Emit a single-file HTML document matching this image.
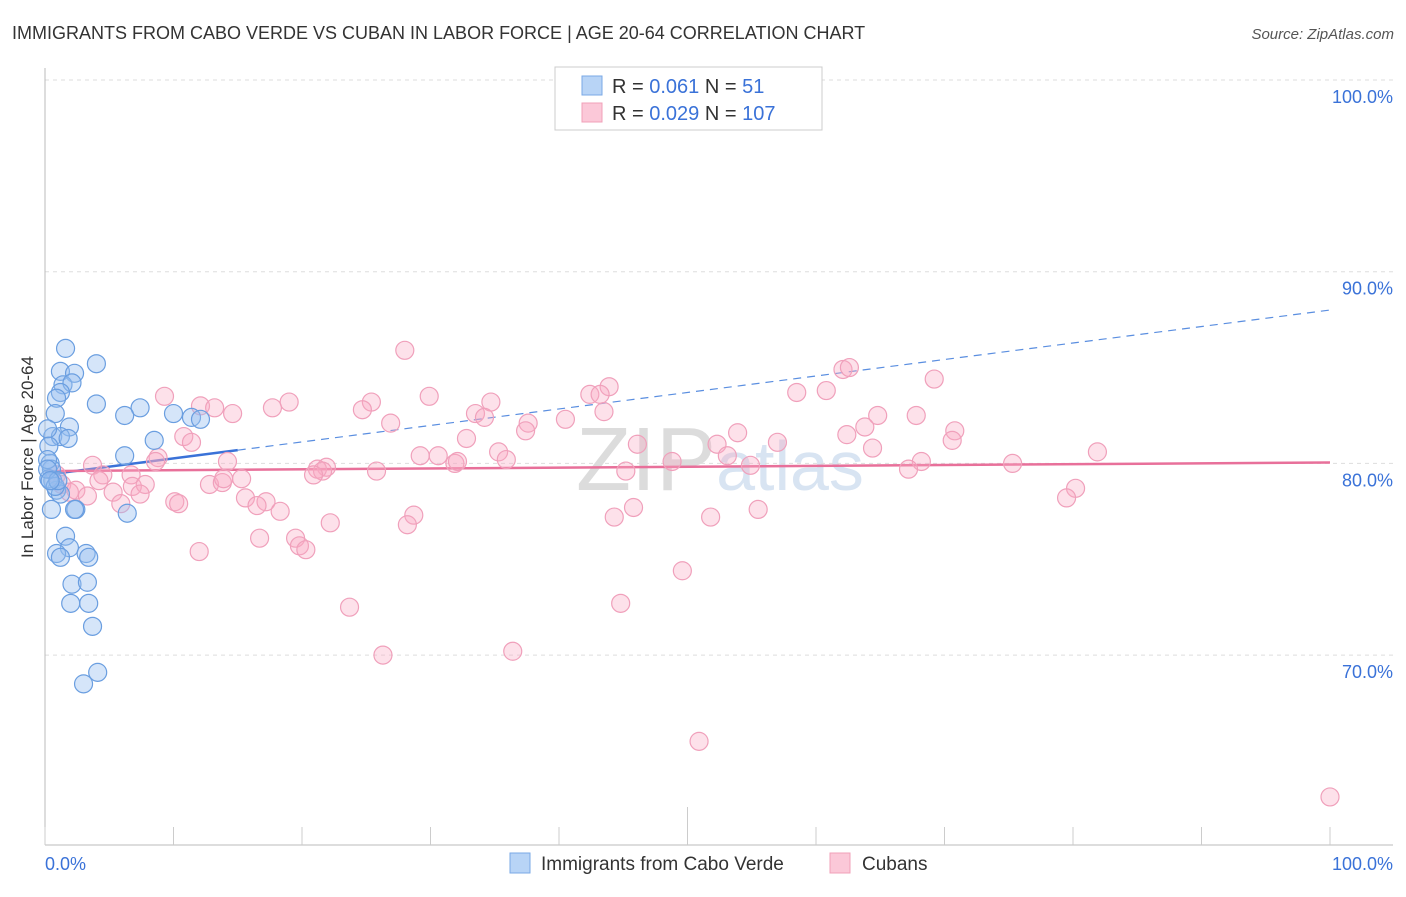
<!DOCTYPE html>
<html><head><meta charset="utf-8"><style>
body{margin:0;background:#fff;font-family:"Liberation Sans",sans-serif}
svg text{font-family:"Liberation Sans",sans-serif}
</style></head><body>
<svg id="chart" width="1406" height="892" viewBox="0 0 1406 892" xmlns="http://www.w3.org/2000/svg">
<text x="12" y="39" font-size="18" fill="#333">IMMIGRANTS FROM CABO VERDE VS CUBAN IN LABOR FORCE | AGE 20-64 CORRELATION CHART</text>
<text x="1394" y="39" font-size="15" fill="#555" text-anchor="end" font-style="italic">Source: ZipAtlas.com</text>
<text x="720" y="490" font-size="90" fill="#e6e6e6" text-anchor="middle" font-family="Liberation Serif"><tspan fill="#dcdcdc">ZIP</tspan><tspan fill="#d8e4f2" font-family="Liberation Sans" font-size="70">atlas</tspan></text>
<text transform="translate(33,457) rotate(-90)" font-size="17" fill="#333" text-anchor="middle">In Labor Force | Age 20-64</text>
<g id="grid"></g>
<g id="axes"></g>
<g id="lines"></g>
<g id="pts"></g>
<g>
<rect x="555" y="67" width="267" height="63" fill="#fff" stroke="#ccc"/>
<rect x="582" y="76" width="20" height="19" fill="#b8d4f6" stroke="#7aa8e6"/>
<text x="612" y="93" font-size="20" fill="#333">R = <tspan fill="#3a72d8">0.061</tspan>   N = <tspan fill="#3a72d8">  51</tspan></text>
<rect x="582" y="103" width="20" height="19" fill="#fbc8d8" stroke="#f0a0b8"/>
<text x="612" y="120" font-size="20" fill="#333">R = <tspan fill="#3a72d8">0.029</tspan>   N = <tspan fill="#3a72d8">107</tspan></text>
</g>
<g>
<rect x="510" y="853" width="20" height="20" fill="#b8d4f6" stroke="#7aa8e6"/>
<text x="541" y="870" font-size="19" fill="#333">Immigrants from Cabo Verde</text>
<rect x="830" y="853" width="20" height="20" fill="#fbc8d8" stroke="#f0a0b8"/>
<text x="862" y="870" font-size="19" fill="#333">Cubans</text>
</g>
</svg>
<script>
const yTicks=[100,90,80,70];
const yTickLabels=["100.0%","90.0%","80.0%","70.0%"];
const xTickValues=[0,10,20,30,40,50,60,70,80,90,100];
const xAxisLabels=["0.0%","100.0%"];
const blueX=[1.6,4.0,1.2,2.3,1.4,2.1,1.2,0.9,4.0,7.4,6.2,0.8,10.0,11.4,12.1,1.9,0.6,1.2,1.8,8.5,0.2,0.3,6.2,0.4,0.5,0.6,0.9,1.2,0.3,0.5,2.4,2.3,6.4,1.6,1.9,0.9,1.2,3.2,3.4,2.1,3.3,2.0,3.4,3.7,4.1,3.0,0.2,0.2,0.8,1.0,0.4];
const blueY=[86.0,85.2,84.8,84.7,84.1,84.2,83.7,83.4,83.1,82.9,82.5,82.6,82.6,82.4,82.3,81.9,81.4,81.4,81.3,81.2,81.8,80.9,80.4,80.0,79.7,79.1,78.6,78.4,79.2,77.6,77.6,77.6,77.4,76.2,75.6,75.3,75.1,75.3,75.1,73.7,73.8,72.7,72.7,71.5,69.1,68.5,80.2,79.7,78.8,79.1,79.1];
const pinkX=[28.0,9.3,62.1,62.6,43.9,42.4,43.2,69.2,58.5,60.8,29.9,34.7,25.4,19.0,12.1,13.2,24.7,14.6,17.7,33.5,34.2,43.5,64.8,67.8,40.5,26.9,37.6,37.4,70.8,62.4,63.8,53.9,10.8,11.4,32.8,46.1,52.3,57.0,70.6,64.4,81.9,29.2,30.6,35.3,35.9,53.1,8.8,14.2,3.7,8.6,31.9,32.1,48.8,54.9,68.2,75.3,21.9,21.2,21.6,67.2,4.5,6.7,15.3,25.8,45.2,20.9,0.9,1.3,4.2,12.8,13.8,6.8,7.8,1.9,2.4,3.3,5.3,7.4,15.6,17.2,10.1,10.4,16.5,80.2,79.5,5.9,18.3,28.7,22.2,28.2,45.8,44.3,51.8,55.5,16.7,19.5,19.8,20.3,12.0,49.6,23.7,44.8,26.3,36.4,50.9,100,13.9];
const pinkY=[85.9,83.5,84.9,85.0,84.0,83.6,83.6,84.4,83.7,83.8,83.5,83.2,83.2,83.2,83.0,82.9,82.8,82.6,82.9,82.6,82.4,82.7,82.5,82.5,82.3,82.1,82.1,81.7,81.7,81.5,81.9,81.6,81.4,81.1,81.3,81.0,81.0,81.1,81.2,80.8,80.6,80.4,80.4,80.6,80.2,80.4,80.3,80.1,79.9,80.1,80.0,80.1,80.1,79.9,80.1,80.0,79.8,79.7,79.6,79.7,79.4,79.4,79.2,79.6,79.6,79.4,79.4,78.9,79.1,78.9,79.0,78.8,78.9,78.5,78.6,78.3,78.5,78.4,78.2,78.0,78.0,77.9,77.8,78.7,78.2,77.9,77.5,77.3,76.9,76.8,77.7,77.2,77.2,77.6,76.1,76.1,75.7,75.5,75.4,74.4,72.5,72.7,70.0,70.2,65.5,62.6,79.2];
const blueFit=[79.4,88.0]; // y at x=0 and x=100
const pinkFit=[79.6,80.05];

const NS="http://www.w3.org/2000/svg";
const xS=v=>45+v*12.85;
const yS=v=>80+(100-v)*19.17;
function mk(tag,attrs,parent){const e=document.createElementNS(NS,tag);for(const k in attrs)e.setAttribute(k,attrs[k]);document.getElementById(parent).appendChild(e);return e;}

yTicks.forEach((t,i)=>{
  const l=mk('line',{x1:45,x2:1393,y1:yS(t),y2:yS(t),stroke:'#ddd','stroke-dasharray':'4,4'},'grid');
  
  
  const tx=mk('text',{x:1393,y:yS(t)+23,'font-size':18,fill:'#3a72d8','text-anchor':'end'},'grid');
  tx.textContent=yTickLabels[i];
  
  
});
const ya=mk('line',{x1:45,x2:45,y1:68,y2:845,stroke:'#bbb'},'axes');


const xa=mk('line',{x1:45,x2:1393,y1:845,y2:845,stroke:'#bbb'},'axes');


xTickValues.forEach(t=>{
  const tk=mk('line',{x1:xS(t),x2:xS(t),y1:t===50?807:827,y2:845,stroke:'#ccc'},'axes');
  
  
});
const xl0=mk('text',{x:45,y:870,'font-size':18,fill:'#3a72d8'},'axes');
xl0.textContent=xAxisLabels[0];


const xl1=mk('text',{x:1393,y:870,'font-size':18,fill:'#3a72d8','text-anchor':'end'},'axes');
xl1.textContent=xAxisLabels[1];



function pt(x,y,fill,stroke,name){
  const c=mk('circle',{cx:xS(x),cy:yS(y),r:9,fill:fill,stroke:stroke,'stroke-width':1.2},'pts');
  
  
}
pinkX.forEach((x,i)=>pt(x,pinkY[i],'rgba(248,170,195,0.35)','#f0a0bb','cuban-point'));
blueX.forEach((x,i)=>pt(x,blueY[i],'rgba(150,190,240,0.4)','#6a9ee0','cabo-verde-point'));

const bAt=x=>blueFit[0]+(blueFit[1]-blueFit[0])*x/100;
const pAt=x=>pinkFit[0]+(pinkFit[1]-pinkFit[0])*x/100;
const bl1=mk('line',{x1:xS(0),y1:yS(bAt(0)),x2:xS(15),y2:yS(bAt(15)),stroke:'#3a72d8','stroke-width':2.5},'lines');


const bl2=mk('line',{x1:xS(15),y1:yS(bAt(15)),x2:xS(100),y2:yS(bAt(100)),stroke:'#5a8ee0','stroke-width':1.2,'stroke-dasharray':'8,6'},'lines');


const pl=mk('line',{x1:xS(0),y1:yS(pAt(0)),x2:xS(100),y2:yS(pAt(100)),stroke:'#e8709a','stroke-width':2.5},'lines');


</script>
</body></html>
